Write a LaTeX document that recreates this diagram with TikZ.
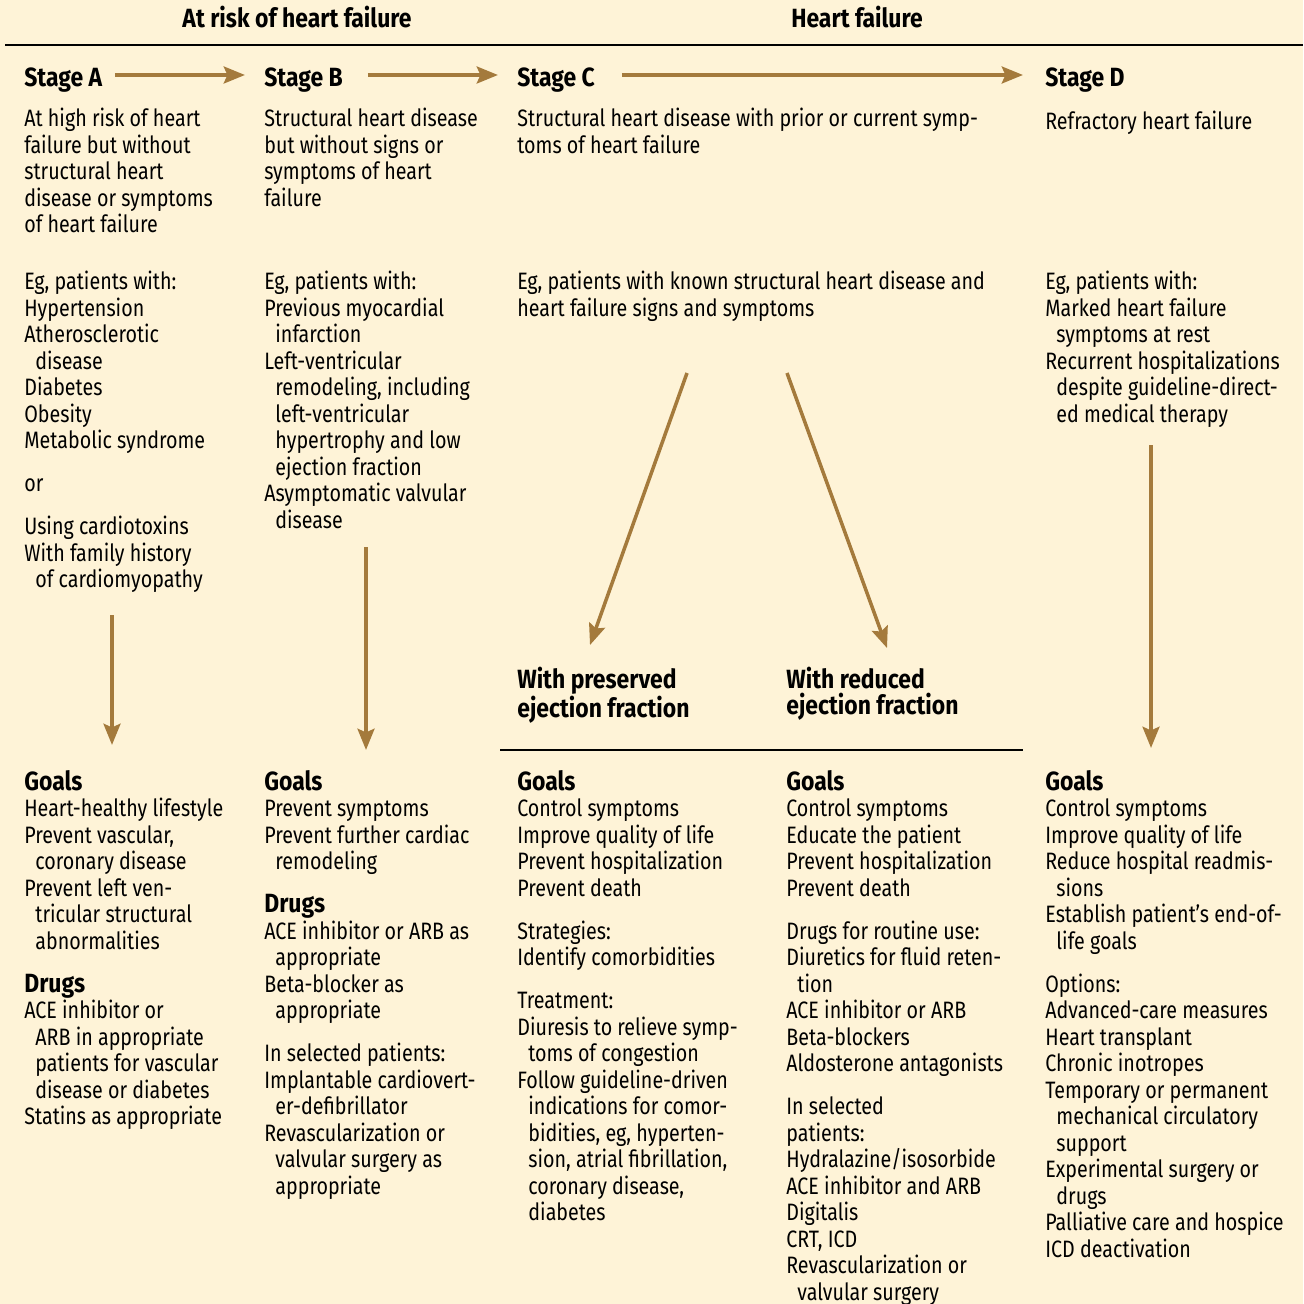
\documentclass[tikz,border=0pt]{standalone}
\usepackage{fontspec}
\setmainfont{Fira Sans}[FakeStretch=0.83]
\newfontfamily\headfont{Fira Sans}[FakeStretch=0.87]
\usetikzlibrary{arrows.meta}

\definecolor{cream}{RGB}{254,243,215}
\definecolor{bronze}{RGB}{164,122,60}
\newcommand{\ind}{\hspace*{6.3pt}}
\newcommand{\hd}[1]{{\headfont\bfseries\fontsize{15}{15.08}\selectfont #1}}

\tikzset{
  body/.style={anchor=north west, yshift=10.4pt, inner sep=0pt, align=left,
    font=\fontsize{13.5}{15.08}\selectfont,
    execute at begin node={\rule{0pt}{12pt}}},
  bhead/.style={body, font=\headfont\bfseries\fontsize{15}{15.08}\selectfont},
  title/.style={anchor=base, inner sep=0pt,
    font=\headfont\bfseries\fontsize{15}{15.08}\selectfont},
  arr/.style={draw=bronze, line width=2.4pt,
    -{Stealth[length=12pt,width=9.5pt,inset=2pt]}},
  rule/.style={line width=1.5pt}
}

\begin{document}
\begin{tikzpicture}[x=0.02cm, y=-0.02cm]
% Background
\fill[cream] (0,0) rectangle (1303,1304);
\useasboundingbox (0,0) rectangle (1303,1304);

% Top headings
\node[title] (risk) at (297,28) {At risk of heart failure};
\node[title] (hf) at (857,28) {Heart failure};
\draw[rule] (5,45) -- (1303,45);

% Stages
\node[bhead] (stA) at (24,83) {Stage A};
\node[bhead] (stB) at (264,83) {Stage B};
\node[bhead] (stC) at (517,83) {Stage C};
\node[bhead] (stD) at (1045,83) {Stage D};
\draw[arr] ([xshift=1.82cm]stA.west |- 0,75) -- ([xshift=-0.38cm]stB.west |- 0,75);
\draw[arr] ([xshift=2.08cm]stB.west |- 0,75) -- ([xshift=-0.38cm]stC.west |- 0,75);
\draw[arr] ([xshift=2.10cm]stC.west |- 0,75) -- ([xshift=-0.44cm]stD.west |- 0,75);

% Descriptions
\node[body] (descA) at (24,126) {At high risk of heart\\failure but without\\structural heart\\disease or symptoms\\of heart failure};
\node[body] (descB) at (264,126) {Structural heart disease\\but without signs or\\symptoms of heart\\failure};
\node[body] (descC) at (517,126) {Structural heart disease with prior or current symp-\\toms of heart failure};
\node[body] (descD) at (1045,126) {Refractory heart failure};

% Examples
\node[body] (egA) at (24,289) {Eg, patients with:\\Hypertension\\Atherosclerotic\\\ind disease\\Diabetes\\Obesity\\Metabolic syndrome\\[9.4pt]or\\[9.4pt]Using cardiotoxins\\With family history\\\ind of cardiomyopathy};
\node[body] (egB) at (264,289) {Eg, patients with:\\Previous myocardial\\\ind infarction\\Left-ventricular\\\ind remodeling, including\\\ind left-ventricular\\\ind hypertrophy and low\\\ind ejection fraction\\Asymptomatic valvular\\\ind disease};
\node[body] (egC) at (517,289) {Eg, patients with known structural heart disease and\\heart failure signs and symptoms};
\node[body] (egD) at (1045,289) {Eg, patients with:\\Marked heart failure\\\ind symptoms at rest\\Recurrent hospitalizations\\\ind despite guideline-direct-\\\ind ed medical therapy};

% Ejection fraction split
\node[bhead] (pres) at (517,685) {With preserved\\ejection fraction};
\node[bhead] (redu) at (786,685) {With reduced\\ejection fraction};
\draw[rule] (500,750) -- (1023,750);
\coordinate (cL1) at (687,373);
\coordinate (cL2) at (590,645);
\coordinate (cR1) at (787,373);
\coordinate (cR2) at (887,648);
\draw[arr, line width=2pt] (cL1) -- (cL2);
\draw[arr, line width=2pt] (cR1) -- (cR2);

% Down arrows
\coordinate (aA1) at (112,615);
\coordinate (aA2) at (112,745);
\coordinate (aB1) at (366,547);
\coordinate (aB2) at (366,750);
\coordinate (aD1) at (1151,445);
\coordinate (aD2) at (1151,748);
\draw[arr] (aA1) -- (aA2);
\draw[arr] (aB1) -- (aB2);
\draw[arr] (aD1) -- (aD2);

% Goals and therapy
\node[body] (goA) at (24,788) {\hd{Goals}\\Heart-healthy lifestyle\\Prevent vascular,\\\ind coronary disease\\Prevent left ven-\\\ind tricular structural\\\ind abnormalities\\[9.4pt]\hd{Drugs}\\ACE inhibitor or\\\ind ARB in appropriate\\\ind patients for vascular\\\ind disease or diabetes\\Statins as appropriate};
\node[body] (goB) at (264,788) {\hd{Goals}\\Prevent symptoms\\Prevent further cardiac\\\ind remodeling\\[9.4pt]\hd{Drugs}\\ACE inhibitor or ARB as\\\ind appropriate\\Beta-blocker as\\\ind appropriate\\[9.4pt]In selected patients:\\Implantable cardiovert-\\\ind er-defibrillator\\Revascularization or\\\ind valvular surgery as\\\ind appropriate};
\node[body] (goC) at (517,788) {\hd{Goals}\\Control symptoms\\Improve quality of life\\Prevent hospitalization\\Prevent death\\[9.4pt]Strategies:\\Identify comorbidities\\[9.4pt]Treatment:\\Diuresis to relieve symp-\\\ind toms of congestion\\Follow guideline-driven\\\ind indications for comor-\\\ind bidities, eg, hyperten-\\\ind sion, atrial fibrillation,\\\ind coronary disease,\\\ind diabetes};
\node[body] (goR) at (786,788) {\hd{Goals}\\Control symptoms\\Educate the patient\\Prevent hospitalization\\Prevent death\\[9.4pt]Drugs for routine use:\\Diuretics for fluid reten-\\\ind tion\\ACE inhibitor or ARB\\Beta-blockers\\Aldosterone antagonists\\[9.4pt]In selected\\patients:\\Hydralazine/isosorbide\\ACE inhibitor and ARB\\Digitalis\\CRT, ICD\\Revascularization or\\\ind valvular surgery};
\node[body] (goD) at (1045,788) {\hd{Goals}\\Control symptoms\\Improve quality of life\\Reduce hospital readmis-\\\ind sions\\Establish patient’s end-of-\\\ind life goals\\[9.4pt]Options:\\Advanced-care measures\\Heart transplant\\Chronic inotropes\\Temporary or permanent\\\ind mechanical circulatory\\\ind support\\Experimental surgery or\\\ind drugs\\Palliative care and hospice\\ICD deactivation};
\end{tikzpicture}
\end{document}
